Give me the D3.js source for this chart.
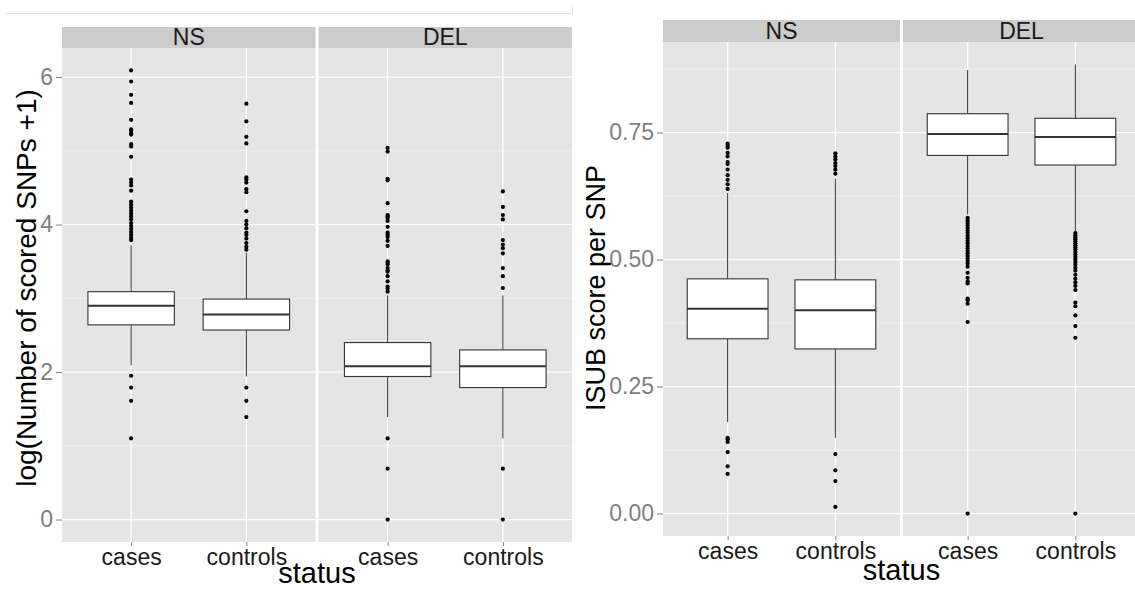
<!DOCTYPE html>
<html>
<head>
<meta charset="utf-8">
<script src="https://cdn.jsdelivr.net/npm/d3@7"></script>
<style>
  body { margin: 0; background: #fff; }
  text { font-family: "Liberation Sans", Arial, sans-serif; }
</style>
</head>
<body>
<div id="chart"></div>
<script>
// facets and x categories
const panels = ["NS", "DEL"];
const statuses = ["cases", "controls"];

// left plot: log(Number of scored SNPs +1)
// order: NS-cases, NS-controls, DEL-cases, DEL-controls
const snpLowerWhisker = [2.09, 1.94, 1.39, 1.10];
const snpQ1 = [2.64, 2.57, 1.94, 1.79];
const snpMedian = [2.90, 2.78, 2.08, 2.08];
const snpQ3 = [3.09, 2.99, 2.40, 2.30];
const snpUpperWhisker = [3.72, 3.62, 3.04, 3.04];
const snpOutliers = [
  [6.09, 5.94, 5.76, 5.65, 5.42, 5.29, 5.27, 5.24, 5.22, 5.09, 5.06, 4.92, 4.61, 4.57, 4.53, 4.46,
   4.31, 4.27, 4.23, 4.19, 4.15, 4.11, 4.07, 4.02, 3.98, 3.94, 3.90, 3.86, 3.82, 3.79,
   1.95, 1.79, 1.61, 1.10],
  [5.64, 5.40, 5.19, 5.10, 4.64, 4.61, 4.57, 4.48, 4.44, 4.18, 4.05, 4.00, 3.95, 3.89, 3.86,
   3.81, 3.75, 3.70, 3.66, 1.79, 1.61, 1.39],
  [5.04, 4.99, 4.62, 4.60, 4.29, 4.13, 4.11, 4.09, 4.05, 3.97, 3.89, 3.86, 3.83, 3.78, 3.71,
   3.50, 3.48, 3.46, 3.41, 3.38, 3.36, 3.30, 3.23, 3.16, 3.13, 3.09, 1.10, 0.69, 0],
  [4.45, 4.24, 4.13, 4.07, 3.79, 3.73, 3.68, 3.61, 3.41, 3.30, 3.14, 0.69, 0]
];
const snpTicks = [0, 2, 4, 6];

// right plot: ISUB score per SNP
const isubLowerWhisker = [0.180, 0.149, 0.589, 0.556];
const isubQ1 = [0.344, 0.324, 0.705, 0.686];
const isubMedian = [0.403, 0.400, 0.747, 0.741];
const isubQ3 = [0.462, 0.460, 0.787, 0.778];
const isubUpperWhisker = [0.631, 0.659, 0.873, 0.884];
const isubOutliers = [
  [0.728, 0.724, 0.720, 0.710, 0.703, 0.692, 0.688, 0.677, 0.666, 0.657, 0.648, 0.639,
   0.149, 0.146, 0.141, 0.121, 0.093, 0.078],
  [0.709, 0.703, 0.697, 0.690, 0.684, 0.677, 0.669, 0.117, 0.085, 0.064, 0.013],
  [0.582, 0.577, 0.572, 0.567, 0.562, 0.557, 0.552, 0.547, 0.542, 0.537, 0.532, 0.527, 0.522,
   0.517, 0.512, 0.507, 0.502, 0.497, 0.492, 0.486, 0.474, 0.464, 0.457, 0.453, 0.423, 0.420,
   0.413, 0.377, 0],
  [0.552, 0.548, 0.544, 0.540, 0.536, 0.532, 0.528, 0.524, 0.520, 0.515, 0.510, 0.505, 0.500,
   0.495, 0.490, 0.484, 0.478, 0.470, 0.462, 0.455, 0.448, 0.440, 0.415, 0.408, 0.390, 0.369,
   0.346, 0]
];
const isubTicks = [0, 0.25, 0.5, 0.75];

const svg = d3.select("#chart").append("svg")
  .attr("width", 1135).attr("height", 590);

// faint frame line on top of the left picture
svg.append("path").attr("d", "M5,13.5H572.5V7")
  .attr("fill", "none").attr("stroke", "#e4e4e4").attr("stroke-width", 1);

function drawChart(o) {
  const groups = d3.cross(panels, statuses).map((p, i) => ({
    panel: p[0], status: p[1],
    lw: o.lw[i], q1: o.q1[i], med: o.med[i], q3: o.q3[i], uw: o.uw[i], out: o.out[i]
  }));
  const all = groups.flatMap(g => [g.lw, g.uw, ...g.out]);
  const ext = d3.extent(all), pad = (ext[1] - ext[0]) * 0.05;
  const y = d3.scaleLinear().domain([ext[0] - pad, ext[1] + pad])
    .range([o.bottom, o.top]);
  const fx = d3.scaleBand().domain(panels)
    .range([o.x0, o.x0 + 2 * o.panelW + o.gap]).paddingInner(o.gap / (o.panelW + o.gap));
  const x = d3.scalePoint().domain(statuses).range([0, fx.bandwidth()]).padding(0.6);
  const bw = x.step() * 0.75;

  const step = o.ticks[1] - o.ticks[0];
  const minor = d3.range(o.ticks[0] - step / 2, y.domain()[1], step)
    .filter(v => v > y.domain()[0]);

  const g = svg.append("g");

  panels.forEach(p => {
    const pg = g.append("g").attr("transform", `translate(${fx(p)},0)`);
    // strip
    pg.append("rect").attr("x", 0).attr("y", o.stripTop)
      .attr("width", fx.bandwidth()).attr("height", o.top - o.stripTop).attr("fill", "#cccccc");
    pg.append("text").attr("x", fx.bandwidth() / 2).attr("y", o.stripBase)
      .attr("text-anchor", "middle").attr("font-size", 23).attr("fill", "#1a1a1a").text(p);
    // panel
    pg.append("rect").attr("x", 0).attr("y", o.top)
      .attr("width", fx.bandwidth()).attr("height", o.bottom - o.top).attr("fill", "#e5e5e5");
    pg.selectAll(".minor").data(minor).enter().append("line")
      .attr("x1", 0).attr("x2", fx.bandwidth())
      .attr("y1", d => y(d)).attr("y2", d => y(d))
      .attr("stroke", "#f2f2f2").attr("stroke-width", 0.8);
    pg.selectAll(".major").data(o.ticks).enter().append("line")
      .attr("x1", 0).attr("x2", fx.bandwidth())
      .attr("y1", d => y(d)).attr("y2", d => y(d))
      .attr("stroke", "#ffffff").attr("stroke-width", 1.3);
    pg.selectAll(".vmajor").data(statuses).enter().append("line")
      .attr("x1", d => x(d)).attr("x2", d => x(d))
      .attr("y1", o.top).attr("y2", o.bottom)
      .attr("stroke", "#ffffff").attr("stroke-width", 1.3);

    // boxplots
    groups.filter(d => d.panel == p).forEach(d => {
      const cx = x(d.status);
      pg.append("line").attr("x1", cx).attr("x2", cx)
        .attr("y1", y(d.uw)).attr("y2", y(d.q3)).attr("stroke", "#333").attr("stroke-width", 1);
      pg.append("line").attr("x1", cx).attr("x2", cx)
        .attr("y1", y(d.q1)).attr("y2", y(d.lw)).attr("stroke", "#333").attr("stroke-width", 1);
      pg.append("rect").attr("x", cx - bw / 2).attr("y", y(d.q3))
        .attr("width", bw).attr("height", y(d.q1) - y(d.q3))
        .attr("fill", "#fff").attr("stroke", "#333").attr("stroke-width", 1.1);
      pg.append("line").attr("x1", cx - bw / 2).attr("x2", cx + bw / 2)
        .attr("y1", y(d.med)).attr("y2", y(d.med)).attr("stroke", "#333").attr("stroke-width", 2);
      pg.selectAll(null).data(d.out).enter().append("circle")
        .attr("cx", cx).attr("cy", v => y(v)).attr("r", 2.1).attr("fill", "#000");
    });

    // x axis
    const xa = pg.append("g").attr("transform", `translate(0,${o.bottom})`)
      .call(d3.axisBottom(x).tickSize(4).tickPadding(3));
    xa.select(".domain").remove();
    xa.selectAll("line").attr("stroke", "#7f7f7f");
    xa.selectAll("text").attr("font-size", 23).attr("fill", "#1a1a1a")
      .attr("font-family", "Liberation Sans, Arial, sans-serif");
  });

  // y axis
  const ya = g.append("g").attr("transform", `translate(${o.x0},0)`)
    .call(d3.axisLeft(y).tickValues(o.ticks).tickFormat(o.fmt).tickSize(6).tickPadding(3));
  ya.select(".domain").remove();
  ya.selectAll("line").attr("stroke", "#7f7f7f");
  ya.selectAll("text").attr("font-size", 23).attr("fill", "#7f7f7f")
    .attr("font-family", "Liberation Sans, Arial, sans-serif");

  // titles
  g.append("text").attr("transform", `translate(${o.titleX},${o.titleY}) rotate(-90)`)
    .attr("text-anchor", "middle").attr("font-size", o.titleSize).attr("fill", "#000")
    .text(o.yTitle);
  g.append("text").attr("x", o.x0 + fx.bandwidth() + o.gap / 2).attr("y", o.statusY)
    .attr("text-anchor", "middle").attr("font-size", 29).attr("fill", "#000").text("status");
}

drawChart({
  x0: 62, panelW: 253.5, gap: 3, stripTop: 27, top: 48, bottom: 542, stripBase: 45,
  lw: snpLowerWhisker, q1: snpQ1, med: snpMedian, q3: snpQ3, uw: snpUpperWhisker, out: snpOutliers,
  ticks: snpTicks, fmt: d3.format("d"),
  yTitle: "log(Number of scored SNPs +1)", titleX: 36, titleY: 288, titleSize: 28, statusY: 583
});

drawChart({
  x0: 663, panelW: 237, gap: 3, stripTop: 20, top: 42, bottom: 536, stripBase: 39,
  lw: isubLowerWhisker, q1: isubQ1, med: isubMedian, q3: isubQ3, uw: isubUpperWhisker, out: isubOutliers,
  ticks: isubTicks, fmt: d3.format(".2f"),
  yTitle: "ISUB score per SNP", titleX: 605, titleY: 288, titleSize: 27, statusY: 580
});
</script>
</body>
</html>
